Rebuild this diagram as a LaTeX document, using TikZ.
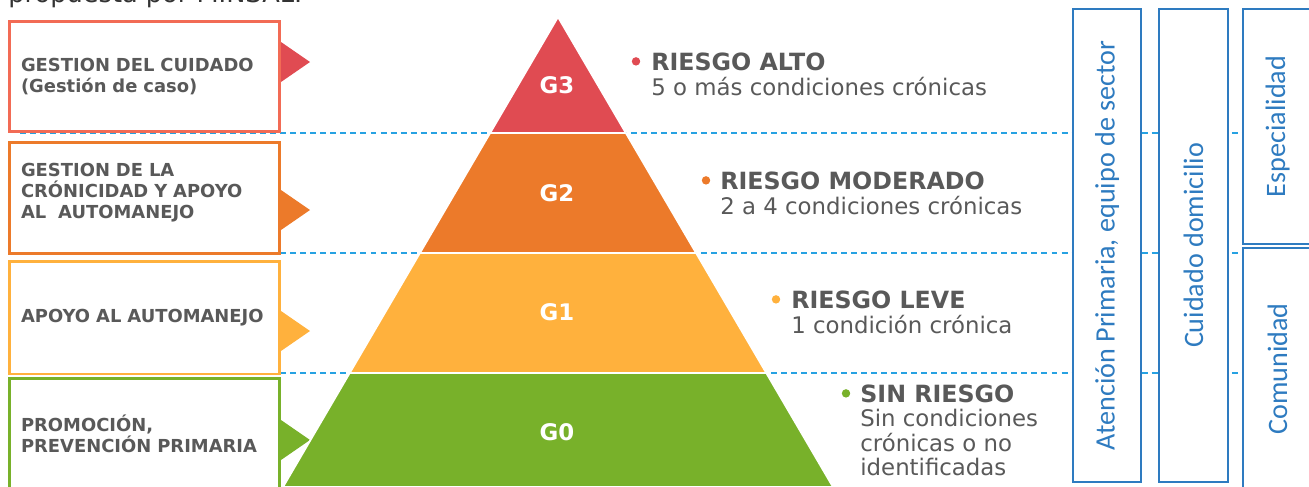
\documentclass[tikz,border=0pt]{standalone}
\usepackage{fontspec}
\setmainfont{DejaVu Sans}
\newfontfamily\calibrifont{Carlito}
\usetikzlibrary{calc}
\definecolor{rojo}{HTML}{E04B52}
\definecolor{rojoborde}{HTML}{F26B55}
\definecolor{naranja}{HTML}{EC7A2A}
\definecolor{amarillo}{HTML}{FFB13D}
\definecolor{verde}{HTML}{78B12A}
\definecolor{azul}{HTML}{2E7BC0}
\definecolor{guia}{HTML}{27A2E2}
\definecolor{texto}{HTML}{595959}

\tikzset{
    nivelbox/.style={draw, fill=white, line width=1.7pt, minimum width=5.42cm,
        minimum height=2.22cm, text width=4.94cm, inner xsep=0.24cm, align=left,
        text=texto, font=\bfseries\fontsize{10.2}{12}\selectfont},
    nivel/.style={text=white, font=\bfseries\fontsize{13}{15}\selectfont},
    riskhead/.style={anchor=base west, inner sep=0, text=texto,
        font=\bfseries\fontsize{13.5}{15}\selectfont},
    risktext/.style={anchor=base west, inner sep=0, text=texto,
        font=\fontsize{13}{15}\selectfont},
    ambito/.style={draw=azul, fill=white, line width=1.1pt, rotate=90, text=azul,
        minimum height=1.37cm, font=\calibrifont\fontsize{16}{18}\selectfont},
    guiadash/.style={guia, line width=0.8pt, dash pattern=on 3.4pt off 2.3pt}
}

\begin{document}
\begin{tikzpicture}[x=0.02cm, y=-0.02cm]
        % frame
        \path[use as bounding box] (0,0) rectangle (1309,487);
        \clip (0,0) rectangle (1309,487);
        \node[anchor=base west, inner sep=0, text=black!80,
            font=\fontsize{14.6}{16}\selectfont] (titulo) at (8,2) {propuesta por MINSAL.};
        % guide lines
        \foreach \y in {133,253,373}
        {
            \draw[guiadash] (20,\y) -- (1309,\y);
        }
        % pointers
        \fill[rojo] (281,42) -- (310,62) -- (281,82) -- cycle;
        \fill[naranja] (281,190) -- (310,210) -- (281,230) -- cycle;
        \fill[amarillo] (281,311) -- (310,331) -- (281,351) -- cycle;
        \fill[verde] (281,420) -- (310,440) -- (281,460) -- cycle;
        % pyramid
        \coordinate (cima) at (558,17);
        \coordinate (baseizq) at (283,487);
        \coordinate (baseder) at (833,487);
        \foreach \t/\n in {0.2468/a, 0.5021/b, 0.7574/c}
        {
            \coordinate (i\n) at ($(cima)!\t!(baseizq)$);
            \coordinate (d\n) at ($(cima)!\t!(baseder)$);
        }
        \path[fill=verde, draw=white, line width=1pt] (ic) -- (dc) -- (baseder) -- (baseizq) -- cycle;
        \path[fill=amarillo, draw=white, line width=1pt] (ib) -- (db) -- (dc) -- (ic) -- cycle;
        \path[fill=naranja, draw=white, line width=1pt] (ia) -- (da) -- (db) -- (ib) -- cycle;
        \path[fill=rojo, draw=white, line width=1pt] (cima) -- (da) -- (ia) -- cycle;
        \node[nivel] (g3) at (557,85) {G3};
        \node[nivel] (g2) at (557,193) {G2};
        \node[nivel] (g1) at (557,312) {G1};
        \node[nivel] (g0) at (557,432) {G0};
        % care levels
        \node[nivelbox, draw=rojoborde] (cuidado) at (144.5,76.5)
            {GESTION DEL CUIDADO\\(Gestión de caso)};
        \node[nivelbox, draw=naranja, minimum height=2.24cm] (cronicidad) at (144.5,198)
            {GESTION DE LA\\CRÓNICIDAD Y APOYO\\AL\ \ AUTOMANEJO\\[-4pt]~};
        \node[nivelbox, draw=amarillo, minimum height=2.26cm] (apoyo) at (144.5,317.5)
            {APOYO AL AUTOMANEJO};
        \node[nivelbox, draw=verde] (promocion) at (144.5,433.5)
            {PROMOCIÓN,\\PREVENCIÓN PRIMARIA};
        % risk labels
        \node[riskhead] (alto) at (651,70) {RIESGO ALTO};
        \node[risktext] (altoT) at ($(alto.base west)+(0,25)$) {5 o más condiciones crónicas};
        \node[riskhead] (moderado) at (720,189) {RIESGO MODERADO};
        \node[risktext] (moderadoT) at ($(moderado.base west)+(0,25)$) {2 a 4 condiciones crónicas};
        \node[riskhead] (leve) at (791,308) {RIESGO LEVE};
        \node[risktext] (leveT) at ($(leve.base west)+(0,25)$) {1 condición crónica};
        \node[riskhead] (sin) at (860,402) {SIN RIESGO};
        \node[risktext] (sinT1) at ($(sin.base west)+(0,24.5)$) {Sin condiciones};
        \node[risktext] (sinT2) at ($(sin.base west)+(0,49)$) {crónicas o no};
        \node[risktext] (sinT3) at ($(sin.base west)+(0,73.5)$) {identificadas};
        \fill[rojo] ($(alto.west)+(-15,0)$) circle (2.4pt);
        \fill[naranja] ($(moderado.west)+(-14,0)$) circle (2.4pt);
        \fill[amarillo] ($(leve.west)+(-15,0)$) circle (2.4pt);
        \fill[verde] ($(sin.west)+(-14,0)$) circle (2.4pt);
        % settings of care
        \node[ambito, minimum width=9.46cm] (aps) at (1107,245.5) {Atención Primaria, equipo de sector};
        \node[ambito, minimum width=9.46cm] (domicilio) at (1193.5,245.5) {Cuidado domicilio};
        \node[ambito, minimum width=4.7cm] (especialidad) at (1277.5,126.5) {Especialidad};
        \node[ambito, minimum width=4.84cm] (comunidad) at (1277.5,369) {Comunidad};
    \end{tikzpicture}
\end{document}
